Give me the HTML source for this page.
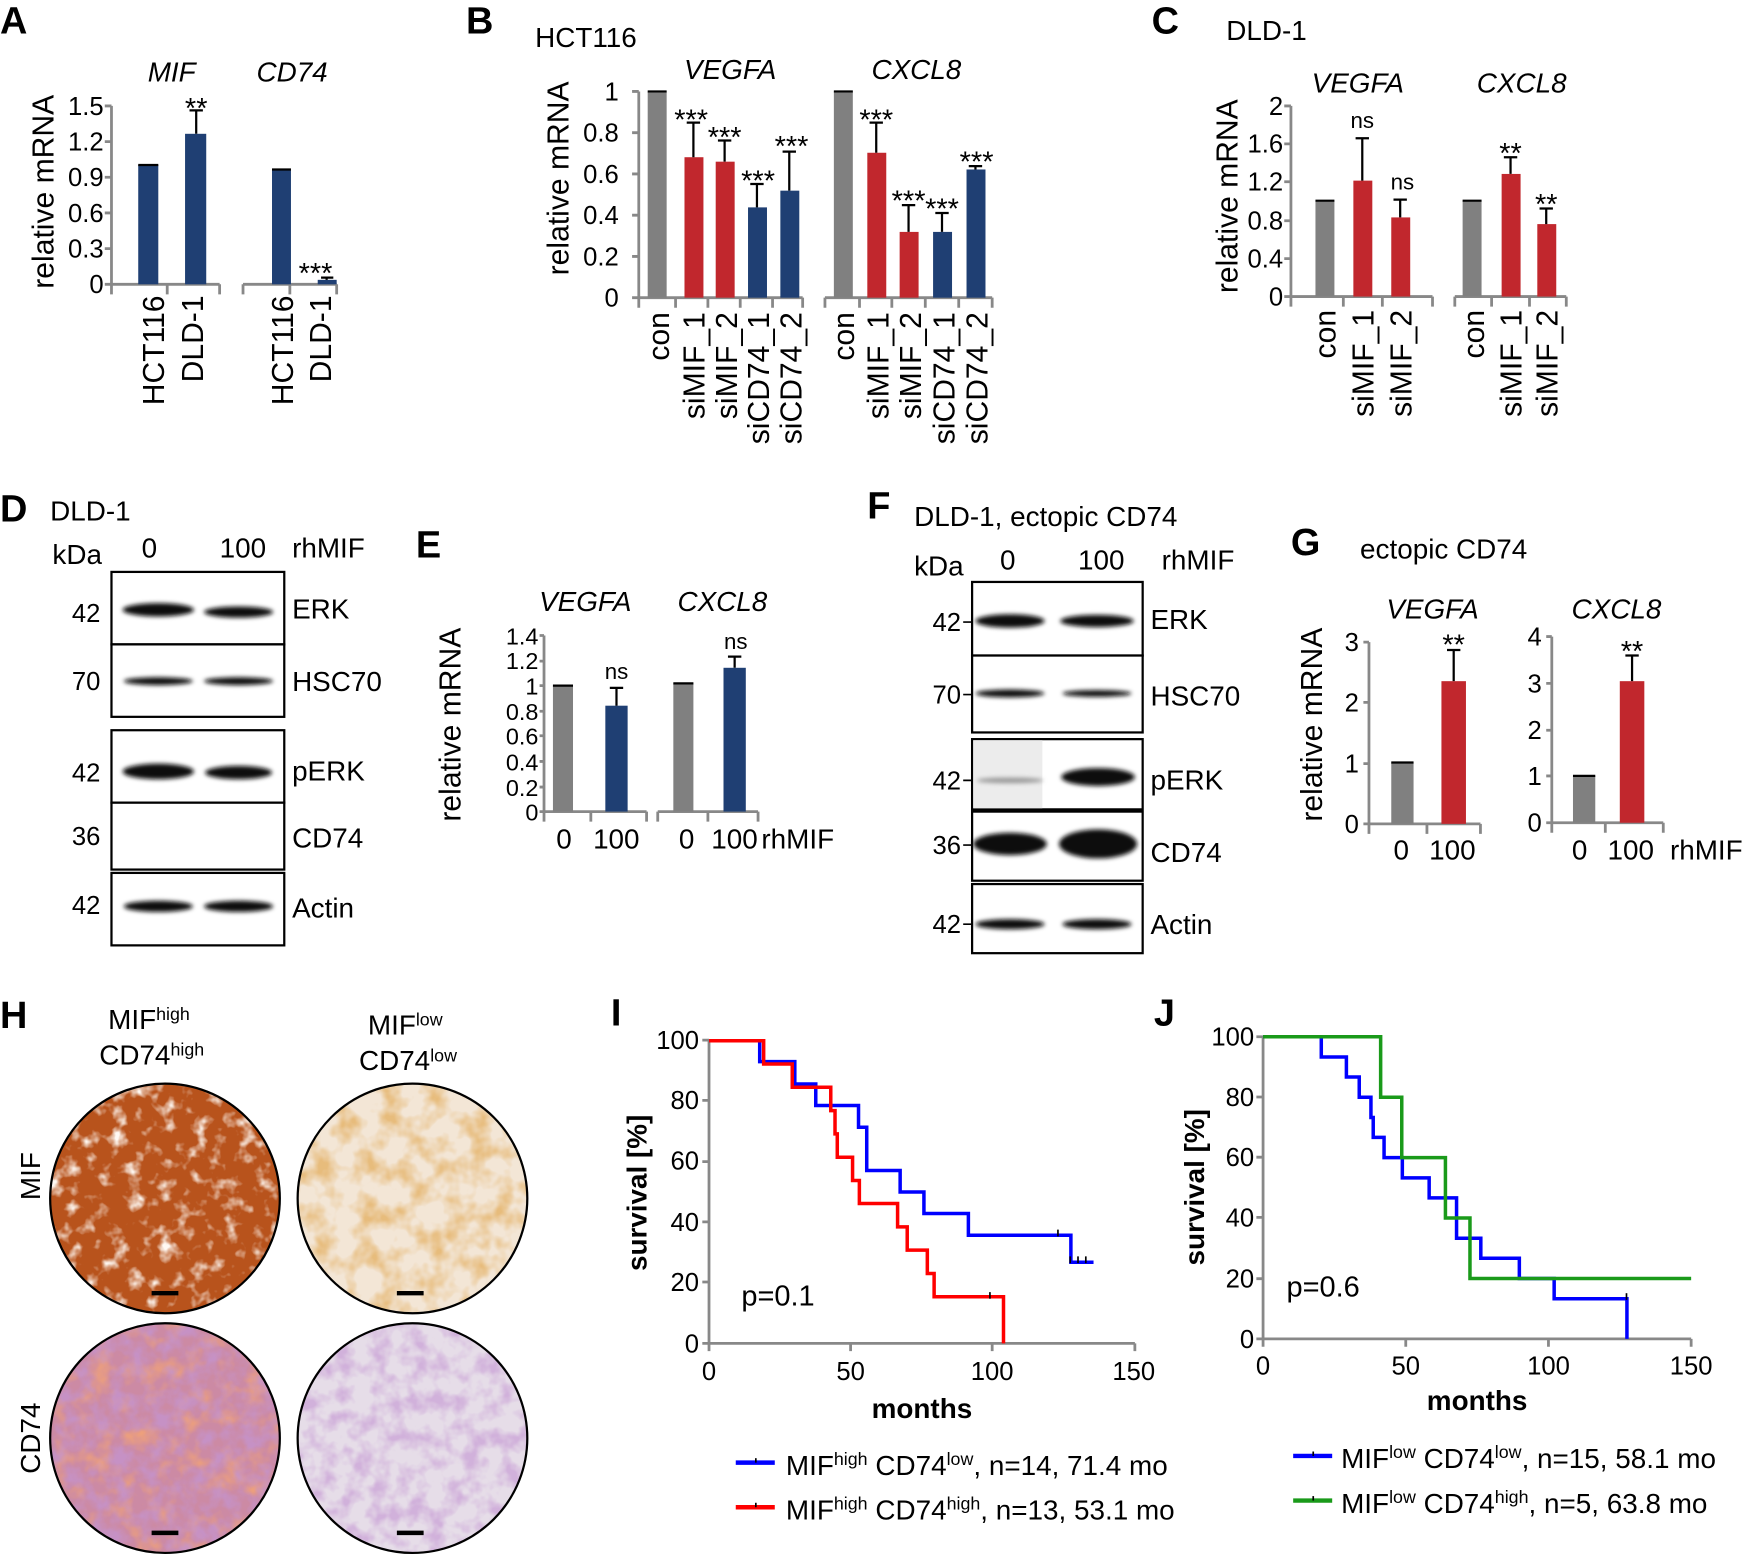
<!DOCTYPE html>
<html><head><meta charset="utf-8"><style>
html,body{margin:0;padding:0;background:#fff}
svg{display:block}
text{font-family:"Liberation Sans",Arial,sans-serif;fill:#000}
.t{font-size:23px}
.l{font-size:25px}
.r{font-size:27px}
.b{font-weight:bold}
.i{font-style:italic}
.ax{stroke:#888;stroke-width:2.5;fill:none}
.err{stroke:#000;stroke-width:2;fill:none}
.blot{fill:#fff;stroke:#000;stroke-width:2}
</style></head><body>
<svg width="1748" height="1563" viewBox="0 0 1568 1402" xmlns="http://www.w3.org/2000/svg">
<defs>
<filter id="bl" x="-20%" y="-100%" width="140%" height="300%"><feGaussianBlur stdDeviation="2"/></filter>
<filter id="tex1"><feTurbulence type="fractalNoise" baseFrequency="0.07" numOctaves="3" seed="3"/><feColorMatrix type="matrix" values="0 0 0 0 1  0 0 0 0 0.95  0 0 0 0 0.9  0 0 0 -3 1.45"/><feComposite in2="SourceGraphic" operator="in"/></filter>
<filter id="tex2"><feTurbulence type="fractalNoise" baseFrequency="0.05" numOctaves="3" seed="7"/><feColorMatrix type="matrix" values="0 0 0 0 0.8  0 0 0 0 0.5  0 0 0 0 0.2  0 0 0 2.5 -1.0"/><feComposite in2="SourceGraphic" operator="in"/></filter>
<filter id="tex3"><feTurbulence type="fractalNoise" baseFrequency="0.06" numOctaves="3" seed="11"/><feColorMatrix type="matrix" values="0 0 0 0 0.55  0 0 0 0 0.3  0 0 0 0 0.65  0 0 0 2.8 -1.1"/><feComposite in2="SourceGraphic" operator="in"/></filter>
<filter id="tex4"><feTurbulence type="fractalNoise" baseFrequency="0.05" numOctaves="3" seed="21"/><feColorMatrix type="matrix" values="0 0 0 0 0.85  0 0 0 0 0.35  0 0 0 0 0.2  0 0 0 2.6 -1.2"/><feComposite in2="SourceGraphic" operator="in"/></filter>
</defs>

<!-- ===== A ===== -->
<text x="0" y="30" class="b" font-size="34">A</text>
<text x="154" y="73" class="l i" text-anchor="middle">MIF</text>
<text x="262" y="73" class="l i" text-anchor="middle">CD74</text>
<text transform="translate(48,172) rotate(-90)" class="r" text-anchor="middle">relative mRNA</text>
<g class="t" text-anchor="end">
<text x="93" y="103">1.5</text><text x="93" y="135">1.2</text><text x="93" y="167">0.9</text><text x="93" y="199">0.6</text><text x="93" y="231">0.3</text><text x="93" y="263">0</text></g>
<path class="ax" d="M100,95V255M94,95H100M94,127H100M94,159H100M94,191H100M94,223H100M94,255H197M100,255V264M150,255V264M197,255V264M218,255H302M218,255V264M260,255V264M302,255V264"/>
<rect x="124" y="148" width="18" height="107" fill="#1f3f73"/>
<rect x="166" y="120" width="19" height="135" fill="#1f3f73"/>
<rect x="244" y="152" width="17" height="103" fill="#1f3f73"/>
<rect x="285" y="251" width="17" height="4" fill="#1f3f73"/>
<path class="err" d="M124,148H142M176,120V99M170,99H182M244,152H261M293,251V249M288,249H299"/>
<text x="176" y="106" font-size="26" text-anchor="middle">**</text>
<text x="283" y="254" font-size="26" text-anchor="middle">***</text>
<g class="r" text-anchor="end">
<text transform="translate(147,265) rotate(-90)">HCT116</text>
<text transform="translate(182,265) rotate(-90)">DLD-1</text>
<text transform="translate(263,265) rotate(-90)">HCT116</text>
<text transform="translate(297,265) rotate(-90)">DLD-1</text></g>

<!-- ===== B ===== -->
<text x="418" y="30" class="b" font-size="34">B</text>
<text x="480" y="42" class="l">HCT116</text>
<text x="655" y="71" class="l i" text-anchor="middle">VEGFA</text>
<text x="822" y="71" class="l i" text-anchor="middle">CXCL8</text>
<text transform="translate(510,160) rotate(-90)" class="r" text-anchor="middle">relative mRNA</text>
<g class="t" text-anchor="end">
<text x="555" y="90">1</text><text x="555" y="127">0.8</text><text x="555" y="164">0.6</text><text x="555" y="201">0.4</text><text x="555" y="238">0.2</text><text x="555" y="275">0</text></g>
<path class="ax" d="M573,82V267M567,82H573M567,119H573M567,156H573M567,193H573M567,230H573M567,267H720M573,267V276M606,267V276M635,267V276M664,267V276M693,267V276M720,267V276M740,267H890M740,267V276M771,267V276M800,267V276M830,267V276M860,267V276M890,267V276"/>
<rect x="581" y="82" width="17" height="185" fill="#808080"/>
<rect x="614" y="141" width="17" height="126" fill="#c1272d"/>
<rect x="642" y="145" width="17" height="122" fill="#c1272d"/>
<rect x="671" y="186" width="17" height="81" fill="#1f3f73"/>
<rect x="700" y="171" width="17" height="96" fill="#1f3f73"/>
<rect x="748" y="82" width="17" height="185" fill="#808080"/>
<rect x="778" y="137" width="17" height="130" fill="#c1272d"/>
<rect x="807" y="208" width="17" height="59" fill="#c1272d"/>
<rect x="837" y="208" width="17" height="59" fill="#1f3f73"/>
<rect x="867" y="152" width="17" height="115" fill="#1f3f73"/>
<path class="err" d="M581,82H598M622,141V110M616,110H628M650,145V126M644,126H656M679,186V165M673,165H685M708,171V136M702,136H714M748,82H765M786,137V110M780,110H792M815,208V184M809,184H821M845,208V191M839,191H851M875,152V149M869,149H881"/>
<g font-size="26" text-anchor="middle">
<text x="620" y="116">***</text><text x="650" y="132">***</text><text x="680" y="171">***</text><text x="710" y="140">***</text>
<text x="786" y="116">***</text><text x="815" y="189">***</text><text x="845" y="196">***</text><text x="876" y="154">***</text></g>
<g class="r" text-anchor="end">
<text transform="translate(600,280) rotate(-90)">con</text>
<text transform="translate(632,280) rotate(-90)">siMIF_1</text>
<text transform="translate(661,280) rotate(-90)">siMIF_2</text>
<text transform="translate(690,280) rotate(-90)">siCD74_1</text>
<text transform="translate(719,280) rotate(-90)">siCD74_2</text>
<text transform="translate(766,280) rotate(-90)">con</text>
<text transform="translate(797,280) rotate(-90)">siMIF_1</text>
<text transform="translate(826,280) rotate(-90)">siMIF_2</text>
<text transform="translate(856,280) rotate(-90)">siCD74_1</text>
<text transform="translate(886,280) rotate(-90)">siCD74_2</text></g>

<!-- ===== C ===== -->
<text x="1033" y="30" class="b" font-size="34">C</text>
<text x="1100" y="36" class="l">DLD-1</text>
<text x="1218" y="83" class="l i" text-anchor="middle">VEGFA</text>
<text x="1365" y="83" class="l i" text-anchor="middle">CXCL8</text>
<text transform="translate(1110,176) rotate(-90)" class="r" text-anchor="middle">relative mRNA</text>
<g class="t" text-anchor="end">
<text x="1151" y="103">2</text><text x="1151" y="137">1.6</text><text x="1151" y="171">1.2</text><text x="1151" y="206">0.8</text><text x="1151" y="240">0.4</text><text x="1151" y="274">0</text></g>
<path class="ax" d="M1158,95V266M1152,95H1158M1152,129H1158M1152,163H1158M1152,198H1158M1152,232H1158M1152,266H1285M1158,266V275M1205,266V275M1240,266V275M1285,266V275M1305,266H1405M1305,266V275M1338,266V275M1372,266V275M1405,266V275"/>
<rect x="1180" y="180" width="17" height="86" fill="#808080"/>
<rect x="1214" y="162" width="17" height="104" fill="#c1272d"/>
<rect x="1248" y="195" width="17" height="71" fill="#c1272d"/>
<rect x="1312" y="180" width="17" height="86" fill="#808080"/>
<rect x="1347" y="156" width="17" height="110" fill="#c1272d"/>
<rect x="1379" y="201" width="17" height="65" fill="#c1272d"/>
<path class="err" d="M1180,180H1197M1222,162V124M1216,124H1228M1256,195V179M1250,179H1262M1312,180H1329M1355,156V141M1349,141H1361M1387,201V187M1381,187H1393"/>
<g font-size="20" text-anchor="middle"><text x="1222" y="115">ns</text><text x="1258" y="170">ns</text></g>
<g font-size="26" text-anchor="middle"><text x="1355" y="146">**</text><text x="1387" y="192">**</text></g>
<g class="r" text-anchor="end">
<text transform="translate(1198,278) rotate(-90)">con</text>
<text transform="translate(1232,278) rotate(-90)">siMIF_1</text>
<text transform="translate(1266,278) rotate(-90)">siMIF_2</text>
<text transform="translate(1331,278) rotate(-90)">con</text>
<text transform="translate(1365,278) rotate(-90)">siMIF_1</text>
<text transform="translate(1397,278) rotate(-90)">siMIF_2</text></g>

<!-- ===== D ===== -->
<text x="0" y="468" class="b" font-size="34">D</text>
<text x="45" y="467" class="l">DLD-1</text>
<g class="l"><text x="47" y="506">kDa</text><text x="127" y="500">0</text><text x="197" y="500">100</text><text x="262" y="500">rhMIF</text></g>
<rect class="blot" x="100" y="513" width="155" height="65"/>
<rect class="blot" x="100" y="578" width="155" height="65"/>
<rect class="blot" x="100" y="655" width="155" height="65"/>
<rect class="blot" x="100" y="720" width="155" height="60"/>
<rect class="blot" x="100" y="783" width="155" height="65"/>
<g fill="#111" filter="url(#bl)">
<ellipse cx="142" cy="547" rx="32" ry="6"/><ellipse cx="214" cy="549" rx="31" ry="5"/>
<ellipse cx="142" cy="611" rx="31" ry="3.5"/><ellipse cx="214" cy="611" rx="31" ry="3.5"/>
<ellipse cx="142" cy="692" rx="32" ry="7"/><ellipse cx="214" cy="693" rx="30" ry="6"/>
<ellipse cx="142" cy="813" rx="31" ry="5"/><ellipse cx="214" cy="813" rx="31" ry="5"/></g>
<g class="l"><text x="262" y="555">ERK</text><text x="262" y="620">HSC70</text><text x="262" y="700">pERK</text><text x="262" y="760">CD74</text><text x="262" y="823">Actin</text></g>
<g class="t" text-anchor="end"><text x="90" y="558">42</text><text x="90" y="619">70</text><text x="90" y="701">42</text><text x="90" y="758">36</text><text x="90" y="820">42</text></g>

<!-- ===== E ===== -->
<text x="373" y="500" class="b" font-size="34">E</text>
<text x="525" y="548" class="l i" text-anchor="middle">VEGFA</text>
<text x="648" y="548" class="l i" text-anchor="middle">CXCL8</text>
<text transform="translate(413,650) rotate(-90)" class="r" text-anchor="middle">relative mRNA</text>
<g font-size="21" text-anchor="end">
<text x="483" y="578">1.4</text><text x="483" y="600">1.2</text><text x="483" y="623">1</text><text x="483" y="646">0.8</text><text x="483" y="668">0.6</text><text x="483" y="691">0.4</text><text x="483" y="714">0.2</text><text x="483" y="736">0</text></g>
<path class="ax" d="M488,570V728M484,570H488M484,593H488M484,615H488M484,638H488M484,660H488M484,683H488M484,706H488M484,728H580M488,728V737M530,728V737M580,728V737M590,728H680M590,728V737M635,728V737M680,728V737"/>
<rect x="496" y="615" width="18" height="113" fill="#808080"/>
<rect x="543" y="633" width="20" height="95" fill="#1f3f73"/>
<rect x="604" y="613" width="18" height="115" fill="#808080"/>
<rect x="649" y="599" width="20" height="129" fill="#1f3f73"/>
<path class="err" d="M496,615H514M553,633V617M547,617H559M604,613H622M659,599V589M653,589H665"/>
<g font-size="20" text-anchor="middle"><text x="553" y="609">ns</text><text x="660" y="582">ns</text></g>
<g class="l"><text x="499" y="761">0</text><text x="532" y="761">100</text><text x="609" y="761">0</text><text x="638" y="761">100</text><text x="683" y="761">rhMIF</text></g>

<!-- ===== F ===== -->
<text x="778" y="465" class="b" font-size="34">F</text>
<text x="820" y="472" class="l">DLD-1, ectopic CD74</text>
<g class="l"><text x="820" y="516">kDa</text><text x="897" y="511">0</text><text x="967" y="511">100</text><text x="1042" y="511">rhMIF</text></g>
<rect class="blot" x="872" y="522" width="153" height="66"/>
<rect class="blot" x="872" y="588" width="153" height="69"/>
<rect x="872" y="663" width="153" height="63" fill="#fff" stroke="#000" stroke-width="2"/>
<rect x="873" y="664" width="62" height="61" fill="#ececec"/>
<rect class="blot" x="872" y="728" width="153" height="62"/>
<rect class="blot" x="872" y="793" width="153" height="62"/>
<g fill="#111" filter="url(#bl)">
<ellipse cx="906" cy="557" rx="31" ry="6"/><ellipse cx="984" cy="557" rx="33" ry="5.5"/>
<ellipse cx="906" cy="622" rx="31" ry="3.5"/><ellipse cx="984" cy="622" rx="31" ry="3"/>
<ellipse cx="906" cy="700" rx="30" ry="2.5" fill="#999"/><ellipse cx="985" cy="697" rx="33" ry="8"/>
<ellipse cx="906" cy="757" rx="33" ry="10"/><ellipse cx="985" cy="757" rx="35" ry="13"/>
<ellipse cx="906" cy="829" rx="31" ry="4.5"/><ellipse cx="984" cy="829" rx="31" ry="4.5"/></g>
<g class="l"><text x="1032" y="564">ERK</text><text x="1032" y="633">HSC70</text><text x="1032" y="708">pERK</text><text x="1032" y="773">CD74</text><text x="1032" y="838">Actin</text></g>
<g class="t" text-anchor="end"><text x="862" y="566">42</text><text x="862" y="631">70</text><text x="862" y="708">42</text><text x="862" y="766">36</text><text x="862" y="837">42</text></g>
<path stroke="#000" stroke-width="1.5" d="M864,558H872M864,623H872M864,700H872M864,758H872M864,829H872"/>

<!-- ===== G ===== -->
<text x="1158" y="498" class="b" font-size="34">G</text>
<text x="1220" y="501" class="l">ectopic CD74</text>
<text x="1285" y="555" class="l i" text-anchor="middle">VEGFA</text>
<text x="1450" y="555" class="l i" text-anchor="middle">CXCL8</text>
<text transform="translate(1186,650) rotate(-90)" class="r" text-anchor="middle">relative mRNA</text>
<g class="t" text-anchor="end"><text x="1219" y="584">3</text><text x="1219" y="638">2</text><text x="1219" y="693">1</text><text x="1219" y="747">0</text>
<text x="1383" y="579">4</text><text x="1383" y="621">3</text><text x="1383" y="663">2</text><text x="1383" y="704">1</text><text x="1383" y="746">0</text></g>
<path class="ax" d="M1228,576V739M1223,576H1228M1223,630H1228M1223,685H1228M1223,739H1328M1228,739V748M1280,739V748M1328,739V748M1392,571V738M1387,571H1392M1387,613H1392M1387,655H1392M1387,696H1392M1387,738H1492M1392,738V747M1440,738V747M1492,738V747"/>
<rect x="1248" y="684" width="20" height="55" fill="#808080"/>
<rect x="1293" y="611" width="22" height="128" fill="#c1272d"/>
<rect x="1411" y="696" width="20" height="42" fill="#808080"/>
<rect x="1453" y="611" width="22" height="127" fill="#c1272d"/>
<path class="err" d="M1248,684H1268M1304,611V583M1298,583H1310M1411,696H1431M1464,611V588M1458,588H1470"/>
<g font-size="26" text-anchor="middle"><text x="1304" y="587">**</text><text x="1464" y="593">**</text></g>
<g class="l"><text x="1250" y="771">0</text><text x="1282" y="771">100</text><text x="1410" y="771">0</text><text x="1442" y="771">100</text><text x="1498" y="771">rhMIF</text></g>

<!-- ===== H ===== -->
<text x="0" y="922" class="b" font-size="34">H</text>
<text x="97" y="923" class="l">MIF<tspan font-size="16" dy="-8">high</tspan></text>
<text x="89" y="955" class="l">CD74<tspan font-size="16" dy="-8">high</tspan></text>
<text x="330" y="928" class="l">MIF<tspan font-size="16" dy="-8">low</tspan></text>
<text x="322" y="960" class="l">CD74<tspan font-size="16" dy="-8">low</tspan></text>
<text transform="translate(36,1055) rotate(-90)" class="l" text-anchor="middle">MIF</text>
<text transform="translate(36,1290) rotate(-90)" class="l" text-anchor="middle">CD74</text>
<circle cx="148" cy="1075" r="103" fill="#b8531c"/>
<circle cx="148" cy="1075" r="103" fill="#000" filter="url(#tex1)"/>
<circle cx="370" cy="1075" r="103" fill="#f3e6d6"/>
<circle cx="370" cy="1075" r="103" fill="#000" filter="url(#tex2)"/>
<circle cx="148" cy="1290" r="103" fill="#cc8aa4"/>
<circle cx="148" cy="1290" r="103" fill="#000" filter="url(#tex4)"/>
<circle cx="148" cy="1290" r="103" fill="#000" filter="url(#tex3)" opacity="0.7"/>
<circle cx="370" cy="1290" r="103" fill="#e6dde8"/>
<circle cx="370" cy="1290" r="103" fill="#000" filter="url(#tex3)" opacity="0.6"/>
<g fill="none" stroke="#000" stroke-width="2"><circle cx="148" cy="1075" r="103"/><circle cx="370" cy="1075" r="103"/><circle cx="148" cy="1290" r="103"/><circle cx="370" cy="1290" r="103"/></g>
<path stroke="#000" stroke-width="4" d="M136,1160H160M356,1160H380M136,1375H160M356,1375H380"/>

<!-- ===== I ===== -->
<text x="548" y="920" class="b" font-size="34">I</text>
<g class="t" text-anchor="end"><text x="627" y="941">100</text><text x="627" y="995">80</text><text x="627" y="1049">60</text><text x="627" y="1104">40</text><text x="627" y="1158">20</text><text x="627" y="1213">0</text></g>
<g class="t" text-anchor="middle"><text x="636" y="1238">0</text><text x="763" y="1238">50</text><text x="890" y="1238">100</text><text x="1017" y="1238">150</text></g>
<text x="827" y="1272" class="l b" text-anchor="middle">months</text>
<text transform="translate(580,1070) rotate(-90)" class="l b" text-anchor="middle">survival [%]</text>
<text x="665" y="1171" font-size="26">p=0.1</text>
<path class="ax" d="M636,933V1205M630,933H636M630,987H636M630,1042H636M630,1096H636M630,1150H636M630,1205H1018M636,1205V1212M763,1205V1212M890,1205V1212M1018,1205V1212"/>
<g transform="translate(636,1205) scale(2.54,-2.715)" fill="none" stroke-width="3.5">
<path stroke="#0000ff" vector-effect="non-scaling-stroke" d="M0,100H17.9V93.1H30.3V85.7H37.7V78.6H52.8V71.4H55.7V57.1H67.5V50H75.9V42.9H91.6V35.7H127.8V26.8H135.8"/>
<path stroke="#ff0000" vector-effect="non-scaling-stroke" d="M0,100H19.3V92.3H29.4V84.6H43V76.9H44.5V69.2H45.3V61.5H50.7V53.8H53.1V46.2H66.6V38.5H70V30.8H77.1V23.1H79.5V15.4H104V0"/>
</g>
<path stroke="#000" stroke-width="1.5" d="M888,1159V1165M949,1103V1109M960,1127V1133M967,1127V1133M974,1127V1133"/>
<path stroke="#0000ff" stroke-width="4" d="M660,1312H695"/><path stroke="#000" stroke-width="1.5" d="M678,1308V1312"/>
<path stroke="#ff0000" stroke-width="4" d="M660,1352H695"/><path stroke="#000" stroke-width="1.5" d="M678,1348V1352"/>
<text x="705" y="1323" class="l">MIF<tspan font-size="16" dy="-9">high</tspan><tspan dy="9"> CD74</tspan><tspan font-size="16" dy="-9">low</tspan><tspan dy="9">, n=14, 71.4 mo</tspan></text>
<text x="705" y="1363" class="l">MIF<tspan font-size="16" dy="-9">high</tspan><tspan dy="9"> CD74</tspan><tspan font-size="16" dy="-9">high</tspan><tspan dy="9">, n=13, 53.1 mo</tspan></text>

<!-- ===== J ===== -->
<text x="1035" y="920" class="b" font-size="34">J</text>
<g class="t" text-anchor="end"><text x="1125" y="938">100</text><text x="1125" y="992">80</text><text x="1125" y="1046">60</text><text x="1125" y="1100">40</text><text x="1125" y="1155">20</text><text x="1125" y="1209">0</text></g>
<g class="t" text-anchor="middle"><text x="1133" y="1233">0</text><text x="1261" y="1233">50</text><text x="1389" y="1233">100</text><text x="1517" y="1233">150</text></g>
<text x="1325" y="1265" class="l b" text-anchor="middle">months</text>
<text transform="translate(1080,1065) rotate(-90)" class="l b" text-anchor="middle">survival [%]</text>
<text x="1154" y="1163" font-size="26">p=0.6</text>
<path class="ax" d="M1133,930V1201M1127,930H1133M1127,984H1133M1127,1038H1133M1127,1092H1133M1127,1147H1133M1127,1201H1517M1133,1201V1208M1261,1201V1208M1389,1201V1208M1517,1201V1208"/>
<g transform="translate(1133,1201) scale(2.56,-2.71)" fill="none">
<path stroke="#0000ff" stroke-width="3.5" vector-effect="non-scaling-stroke" d="M0,100H20.4V93.3H29.2V86.7H33.7V80H37.8V73.3H38.6V66.7H42.4V60H48.8V53.3H58.2V46.7H67.8V33.3H76.3V26.7H89.8V20H102V13.3H127.5V0"/>
<path stroke="#1a9a1a" stroke-width="3.5" vector-effect="non-scaling-stroke" d="M0,100H41.2V80H48.6V60H63.9V40H72.5V20H150"/>
</g>
<path stroke="#000" stroke-width="1.5" d="M1459,1160V1166"/>
<path stroke="#0000ff" stroke-width="4" d="M1160,1306H1195"/><path stroke="#000" stroke-width="1.5" d="M1178,1302V1306"/>
<path stroke="#1a9a1a" stroke-width="4" d="M1160,1346H1195"/><path stroke="#000" stroke-width="1.5" d="M1178,1342V1346"/>
<text x="1203" y="1317" class="l">MIF<tspan font-size="16" dy="-9">low</tspan><tspan dy="9"> CD74</tspan><tspan font-size="16" dy="-9">low</tspan><tspan dy="9">, n=15, 58.1 mo</tspan></text>
<text x="1203" y="1357" class="l">MIF<tspan font-size="16" dy="-9">low</tspan><tspan dy="9"> CD74</tspan><tspan font-size="16" dy="-9">high</tspan><tspan dy="9">, n=5, 63.8 mo</tspan></text>
</svg>
</body></html>
